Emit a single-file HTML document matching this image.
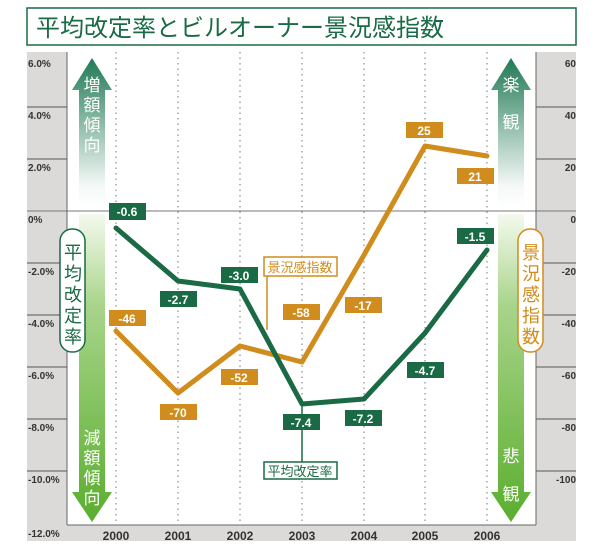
<!DOCTYPE html>
<html><head><meta charset="utf-8"><style>
body{margin:0;background:#fff}
svg{display:block;font-family:"Liberation Sans","Noto Sans CJK JP",sans-serif}
.tk{font-size:10px;font-weight:bold;fill:#333}
.yr{font-size:12px;font-weight:bold;fill:#333}
.lb{font-size:12px;font-weight:bold;fill:#fff}
</style></head><body>
<svg width="600" height="550" viewBox="0 0 600 550">
<defs>
<linearGradient id="gu" x1="0" y1="1" x2="0" y2="0"><stop offset="0" stop-color="#fff"/><stop offset="0.15" stop-color="#f4f8f6"/><stop offset="1" stop-color="#1f7a55"/></linearGradient>
<linearGradient id="gd" x1="0" y1="0" x2="0" y2="1"><stop offset="0" stop-color="#f4faee"/><stop offset="0.3" stop-color="#a8d48a"/><stop offset="1" stop-color="#5aae2e"/></linearGradient>
</defs>
<!-- title -->
<rect x="27" y="8" width="549" height="37" fill="#fff" stroke="#1a6b45" stroke-width="1.5"/>
<text x="36" y="36" font-size="24" fill="#1a6b45">平均改定率とビルオーナー景況感指数</text>
<!-- gray panels -->
<rect x="27" y="52" width="40" height="489" fill="#dcdad8"/>
<rect x="536" y="52" width="40" height="489" fill="#dcdad8"/>
<rect x="27" y="525" width="549" height="16" fill="#dcdad8"/>
<rect x="67" y="52" width="469" height="473" fill="#fff"/>
<g stroke="#555" stroke-width="1">
<line x1="27" y1="107" x2="67" y2="107"/><line x1="27" y1="159" x2="67" y2="159"/><line x1="27" y1="263" x2="67" y2="263"/><line x1="27" y1="315" x2="67" y2="315"/><line x1="27" y1="367" x2="67" y2="367"/><line x1="27" y1="419" x2="67" y2="419"/><line x1="27" y1="471" x2="67" y2="471"/>
<line x1="536" y1="107" x2="576" y2="107"/><line x1="536" y1="159" x2="576" y2="159"/><line x1="536" y1="263" x2="576" y2="263"/><line x1="536" y1="315" x2="576" y2="315"/><line x1="536" y1="367" x2="576" y2="367"/><line x1="536" y1="419" x2="576" y2="419"/><line x1="536" y1="471" x2="576" y2="471"/>
<line x1="27" y1="211" x2="576" y2="211" stroke="#777"/>
<line x1="67" y1="525" x2="536" y2="525" stroke="#666"/>
<line x1="67" y1="52" x2="67" y2="525" stroke="#666"/>
<line x1="536" y1="52" x2="536" y2="525" stroke="#666"/>
</g>
<g stroke="#777" stroke-width="1" stroke-dasharray="1.5,4">
<line x1="116" y1="52" x2="116" y2="525"/><line x1="178" y1="52" x2="178" y2="525"/><line x1="240" y1="52" x2="240" y2="525"/><line x1="302" y1="52" x2="302" y2="525"/><line x1="364" y1="52" x2="364" y2="525"/><line x1="425" y1="52" x2="425" y2="525"/><line x1="487" y1="52" x2="487" y2="525"/>
</g>
<g class="tk">
<text x="28" y="67">6.0%</text><text x="28" y="119">4.0%</text><text x="28" y="171">2.0%</text><text x="28" y="223">0%</text><text x="28" y="275">-2.0%</text><text x="28" y="327">-4.0%</text><text x="28" y="379">-6.0%</text><text x="28" y="431">-8.0%</text><text x="28" y="483">-10.0%</text><text x="28" y="537">-12.0%</text>
<g text-anchor="end"><text x="576" y="67">60</text><text x="576" y="119">40</text><text x="576" y="171">20</text><text x="576" y="223">0</text><text x="576" y="275">-20</text><text x="576" y="327">-40</text><text x="576" y="379">-60</text><text x="576" y="431">-80</text><text x="576" y="483">-100</text></g>
</g>
<g class="yr" text-anchor="middle"><text x="116" y="540">2000</text><text x="178" y="540">2001</text><text x="240" y="540">2002</text><text x="302" y="540">2003</text><text x="364" y="540">2004</text><text x="425" y="540">2005</text><text x="487" y="540">2006</text></g>
<!-- arrows -->
<polygon points="92,58 112,90 105,90 105,208 79,208 79,90 72,90" fill="url(#gu)"/>
<polygon points="79,214 105,214 105,492 112,492 92,522 72,492 79,492" fill="url(#gd)"/>
<polygon points="511,58 531,90 524,90 524,208 498,208 498,90 491,90" fill="url(#gu)"/>
<polygon points="498,214 524,214 524,492 531,492 511,522 491,492 498,492" fill="url(#gd)"/>
<g fill="#fff" font-size="17" text-anchor="middle">
<text x="92" y="91">増</text><text x="92" y="111">額</text><text x="92" y="131">傾</text><text x="92" y="151">向</text>
<text x="92" y="444">減</text><text x="92" y="464">額</text><text x="92" y="484">傾</text><text x="92" y="504">向</text>
<text x="511" y="91">楽</text><text x="511" y="128">観</text>
<text x="511" y="462">悲</text><text x="511" y="500">観</text>
</g>
<!-- pills -->
<rect x="60" y="229" width="25" height="123" rx="12" fill="#fff" stroke="#1a6b45" stroke-width="1.5"/>
<g fill="#1a6b45" font-size="18" text-anchor="middle"><text x="73" y="259">平</text><text x="73" y="280">均</text><text x="73" y="301">改</text><text x="73" y="322">定</text><text x="73" y="343">率</text></g>
<rect x="518" y="229" width="25" height="123" rx="12" fill="#fff" stroke="#d08c1c" stroke-width="1.5"/>
<g fill="#d08c1c" font-size="18" text-anchor="middle"><text x="531" y="259">景</text><text x="531" y="280">況</text><text x="531" y="301">感</text><text x="531" y="322">指</text><text x="531" y="343">数</text></g>
<!-- lines -->
<polyline points="116,331 178,393 240,346 302,362 364,255 425,146 487,156" fill="none" stroke="#d08c1c" stroke-width="5" stroke-linejoin="round" stroke-linecap="round"/>
<polyline points="116,228 178,281 240,289 302,404 364,399 425,333 487,250" fill="none" stroke="#1a6b45" stroke-width="5" stroke-linejoin="round" stroke-linecap="round"/>
<!-- legend -->
<line x1="267" y1="276" x2="267" y2="330" stroke="#d08c1c" stroke-width="1.5"/>
<rect x="264" y="257" width="73" height="19" fill="#fff" stroke="#d08c1c" stroke-width="1.5"/>
<text x="300" y="272" font-size="13" fill="#d08c1c" text-anchor="middle">景況感指数</text>
<line x1="302" y1="404" x2="302" y2="462" stroke="#1a6b45" stroke-width="1.5"/>
<rect x="264" y="462" width="73" height="17" fill="#fff" stroke="#1a6b45" stroke-width="1.5"/>
<text x="300" y="476" font-size="13" fill="#1a6b45" text-anchor="middle">平均改定率</text>
<!-- labels -->
<g fill="#1a6b45">
<rect x="109" y="203" width="37" height="17"/><rect x="160" y="291" width="37" height="16"/><rect x="221" y="267" width="37" height="16"/><rect x="283" y="414" width="37" height="16"/><rect x="345" y="410" width="37" height="16"/><rect x="407" y="362" width="37" height="16"/><rect x="457" y="228" width="37" height="16"/>
</g>
<g fill="#d08c1c">
<rect x="109" y="310" width="37" height="16"/><rect x="160" y="404" width="37" height="16"/><rect x="221" y="369" width="37" height="16"/><rect x="283" y="304" width="37" height="16"/><rect x="345" y="297" width="37" height="16"/><rect x="406" y="122" width="37" height="16"/><rect x="457" y="168" width="37" height="16"/>
</g>
<g class="lb" text-anchor="middle">
<text x="127" y="216">-0.6</text><text x="178" y="304">-2.7</text><text x="239" y="280">-3.0</text><text x="301" y="427">-7.4</text><text x="363" y="423">-7.2</text><text x="425" y="375">-4.7</text><text x="475" y="241">-1.5</text>
<text x="127" y="323">-46</text><text x="178" y="417">-70</text><text x="239" y="382">-52</text><text x="301" y="317">-58</text><text x="363" y="310">-17</text><text x="424" y="135">25</text><text x="475" y="181">21</text>
</g>
</svg>
</body></html>
